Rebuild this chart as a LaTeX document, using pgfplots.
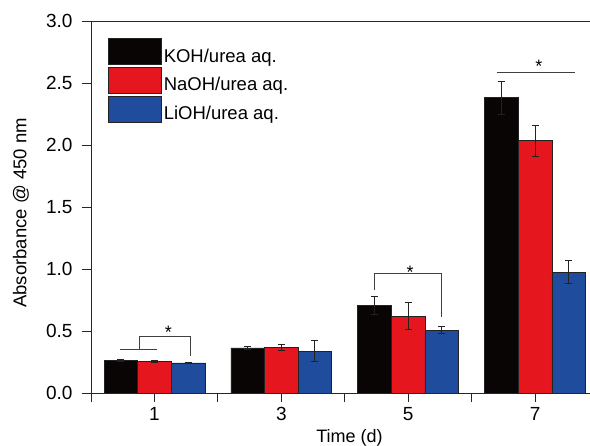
\documentclass[border=0pt]{standalone}
\usepackage{pgfplots}
\pgfplotsset{compat=1.18}
\usepackage{fontspec}
\setmainfont{Liberation Sans}
\definecolor{cK}{HTML}{0A0505}
\definecolor{cN}{HTML}{E6161E}
\definecolor{cL}{HTML}{1F4C9C}
\definecolor{cE}{HTML}{222222}
\begin{document}
\begin{tikzpicture}
\begin{axis}[
  name=ax,
  scale only axis,
  width=499pt, height=372pt,
  xmin=-0.5, xmax=3.433,
  ymin=0, ymax=3.0,
  axis x line*=box, axis y line*=left,
  axis line style={line width=0.8pt, black!85, -},
  ybar,
  bar width=0.265,
  xtick={0,1,2,3},
  xticklabels={1,3,5,7},
  minor xtick={-0.5,0.5,1.5,2.5},
  xtick pos=bottom,
  ytick={0,0.5,1,1.5,2,2.5,3},
  yticklabel style={/pgf/number format/fixed,/pgf/number format/fixed zerofill,/pgf/number format/precision=1, xshift=-6pt},
  xticklabel style={yshift=-2pt},
  /pgf/number format/assume math mode=true,
  tick align=outside,
  major tick length=9pt, minor tick length=9pt,
  tick style={line width=0.8pt, black!85},
  ticklabel style={font=\fontsize{19}{21}\selectfont},
  xlabel={Time (d)},
  ylabel={Absorbance @ 450 nm},
  every axis y label/.style={at={(rel axis cs:0,0.5)}, xshift=-70pt, yshift=-6pt, rotate=90, anchor=center, font=\fontsize{18.5}{21}\selectfont},
  every axis x label/.style={at={(rel axis cs:0.5,0)}, anchor=base, xshift=9pt, yshift=-50pt, font=\fontsize{18}{21}\selectfont},
  legend image code/.code={\draw[#1] (0pt,-8.5pt) rectangle (53pt,17.5pt);},
  legend style={draw=none, fill=none, inner sep=0pt, at={(rel axis cs:0.034,0.954)}, anchor=north west,
    font=\fontsize{18.5}{21}\selectfont, row sep=1.5pt, cells={anchor=west},
    /tikz/every even column/.append style={column sep=4pt}},
  legend cell align=left,
  error bars/error bar style={line width=0.9pt, cE},
  error bars/error mark options={rotate=90, mark size=3.5pt, line width=0.9pt, cE},
]
\addplot[fill=cK, draw=cE, line width=0.6pt, bar shift=-0.265,
  error bars/.cd, y dir=both, y explicit]
  coordinates {(0,0.265) +- (0,0.008) (1,0.363) +- (0,0.010) (2,0.707) +- (0,0.075) (3,2.382) +- (0,0.132)};
\addplot[fill=cN, draw=cE, line width=0.6pt, bar shift=0,
  error bars/.cd, y dir=both, y explicit]
  coordinates {(0,0.255) +- (0,0.008) (1,0.366) +- (0,0.022) (2,0.620) +- (0,0.110) (3,2.035) +- (0,0.125)};
\addplot[fill=cL, draw=cE, line width=0.6pt, bar shift=0.265,
  error bars/.cd, y dir=both, y explicit]
  coordinates {(0,0.243) +- (0,0.006) (1,0.336) +- (0,0.085) (2,0.508) +- (0,0.026) (3,0.973) +- (0,0.093)};
\legend{KOH/urea aq., NaOH/urea aq., LiOH/urea aq.}
% significance annotations
\draw[line width=0.9pt, black!75] (axis cs:-0.268,0.35) -- (axis cs:0.024,0.35);
\draw[line width=0.9pt, black!75] (axis cs:-0.118,0.35) -- (axis cs:-0.118,0.457) -- (axis cs:0.283,0.457) -- (axis cs:0.283,0.296);
\node[anchor=base, inner sep=0pt, font=\fontsize{18}{21}\selectfont] at (axis cs:0.11,0.441) {*};
\draw[line width=0.9pt, black!75] (axis cs:1.732,0.828) -- (axis cs:1.732,0.968) -- (axis cs:2.26,0.968) -- (axis cs:2.26,0.613);
\node[anchor=base, inner sep=0pt, font=\fontsize{18}{21}\selectfont] at (axis cs:2.016,0.927) {*};
\draw[line width=0.9pt, black!75] (axis cs:2.698,2.589) -- (axis cs:3.315,2.589);
\node[anchor=base, inner sep=0pt, font=\fontsize{18}{21}\selectfont] at (axis cs:3.031,2.586) {*};
\end{axis}
\pgfresetboundingbox
\path[use as bounding box] ([xshift=-91pt,yshift=-53pt]ax.south west) rectangle ([yshift=21pt]ax.north east);
\end{tikzpicture}
\end{document}
